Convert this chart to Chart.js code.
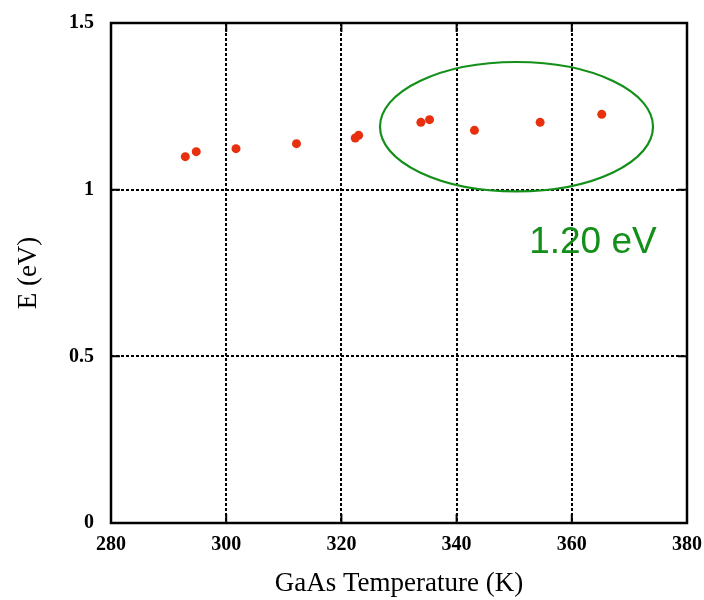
<!DOCTYPE html>
<html>
<head>
<meta charset="utf-8">
<script src="https://cdn.jsdelivr.net/npm/chart.js@4"></script>
<style>
  html, body { margin: 0; padding: 0; background: #fff; }
  #wrap { width: 704px; height: 600px; position: relative; }
</style>
</head>
<body>
<div id="wrap"><canvas id="c" width="704" height="600"></canvas></div>
<script>
// ---- data ----
const temperatures = [292.9, 294.8, 301.7, 312.2, 322.4, 323.0, 333.8, 335.3, 343.1, 354.5, 365.2];
const energies     = [1.099, 1.114, 1.123, 1.138, 1.155, 1.163, 1.202, 1.210, 1.178, 1.202, 1.226];
const xTickValues  = [280, 300, 320, 340, 360, 380];
const yTickValues  = [0, 0.5, 1, 1.5];
const yTickLabels  = ['0', '0.5', '1', '1.5'];
const xTitle = 'GaAs Temperature (K)';
const yTitle = 'E (eV)';
const annotationText = '1.20 eV';
// ellipse in data units: centre T, centre E, half-width (K), half-height (eV)
const ellipseCentre = [350.4, 1.189];
const ellipseRadii  = [23.7, 0.194];
const annotationAnchor = [352.6, 0.84];

const frame = {
  id: 'frame',
  afterDatasetsDraw(chart) {
    const ctx = chart.ctx, a = chart.chartArea;
    const xs = chart.scales.x, ys = chart.scales.y;
    ctx.save();
    // ellipse
    const cx = xs.getPixelForValue(ellipseCentre[0]);
    const cy = ys.getPixelForValue(ellipseCentre[1]);
    const rx = Math.abs(xs.getPixelForValue(ellipseCentre[0] + ellipseRadii[0]) - cx);
    const ry = Math.abs(ys.getPixelForValue(ellipseCentre[1] + ellipseRadii[1]) - cy);
    ctx.beginPath();
    ctx.ellipse(cx, cy, rx, ry, 0, 0, Math.PI * 2);
    ctx.strokeStyle = '#14901a';
    ctx.lineWidth = 2.2;
    ctx.stroke();
    // text
    ctx.fillStyle = '#14901a';
    ctx.font = '37px "Liberation Sans", Arial, sans-serif';
    ctx.textAlign = 'left';
    ctx.textBaseline = 'middle';
    ctx.fillText(annotationText, xs.getPixelForValue(annotationAnchor[0]), ys.getPixelForValue(annotationAnchor[1]));
    // border
    ctx.strokeStyle = '#000';
    ctx.lineWidth = 2.5;
    ctx.strokeRect(a.left, a.top, a.right - a.left, a.bottom - a.top);
    // inward ticks
    ctx.lineWidth = 2;
    ctx.beginPath();
    const L = 9;
    xTickValues.forEach(v => {
      const px = xs.getPixelForValue(v);
      ctx.moveTo(px, a.bottom); ctx.lineTo(px, a.bottom - L);
      ctx.moveTo(px, a.top); ctx.lineTo(px, a.top + L);
    });
    yTickValues.forEach(v => {
      const py = ys.getPixelForValue(v);
      ctx.moveTo(a.left, py); ctx.lineTo(a.left + L, py);
      ctx.moveTo(a.right, py); ctx.lineTo(a.right - L, py);
    });
    ctx.stroke();
    ctx.restore();
  }
};

const tickFont = { family: '"Liberation Serif", "Times New Roman", serif', size: 20, weight: 'bold' };
const titleFont = { family: '"Liberation Serif", "Times New Roman", serif', size: 27 };
const noPad = s => { s.paddingTop = 0; s.paddingBottom = 0; s.paddingLeft = 0; s.paddingRight = 0; };

new Chart(document.getElementById('c'), {
  type: 'scatter',
  data: {
    datasets: [{
      data: temperatures.map((t, i) => ({ x: t, y: energies[i] })),
      backgroundColor: '#e8300e',
      borderWidth: 0,
      pointRadius: 4.5
    }]
  },
  options: {
    responsive: false,
    animation: false,
    devicePixelRatio: 1,
    layout: { padding: { left: 0, right: 17, top: 23, bottom: 0 } },
    plugins: { legend: { display: false }, tooltip: { enabled: false } },
    scales: {
      x: {
        type: 'linear', min: 280, max: 380,
        afterBuildTicks: s => { s.ticks = xTickValues.map(v => ({ value: v })); },
        afterFit: s => { s.height = 77; noPad(s); },
        ticks: { font: tickFont, color: '#000', padding: 10, maxRotation: 0 },
        grid: { color: '#000', lineWidth: 2, drawTicks: false },
        border: { display: false, dash: [3, 2] },
        title: { display: true, text: xTitle, font: titleFont, color: '#000', padding: { top: 0, bottom: 0 } }
      },
      y: {
        type: 'linear', min: 0, max: 1.5,
        afterBuildTicks: s => { s.ticks = yTickValues.map(v => ({ value: v })); },
        afterFit: s => { s.width = 111; noPad(s); },
        ticks: { font: tickFont, color: '#000', padding: 17,
                 callback: (v) => { const i = yTickValues.indexOf(v); return i >= 0 ? yTickLabels[i] : ''; } },
        grid: { color: '#000', lineWidth: 2, drawTicks: false },
        border: { display: false, dash: [3, 2] },
        title: { display: true, text: yTitle, font: titleFont, color: '#000', padding: { top: 13, bottom: 0 } }
      }
    }
  },
  plugins: [frame]
});
</script>
</body>
</html>
